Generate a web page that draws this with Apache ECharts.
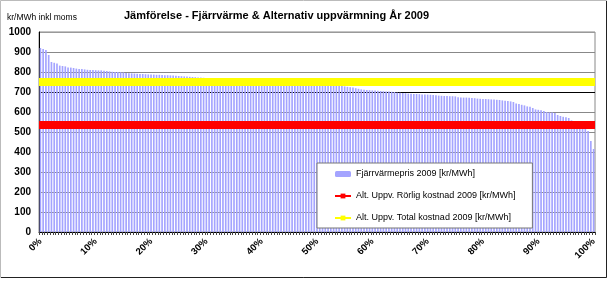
<!DOCTYPE html>
<html>
<head>
<meta charset="utf-8">
<script src="https://cdn.jsdelivr.net/npm/echarts@6/dist/echarts.min.js"></script>
<style>
  html, body { margin: 0; padding: 0; background: #fff; }
  #main { width: 610px; height: 282px; }
</style>
</head>
<body>
<div id="main"></div>
<script>
// Fjärrvärmepris 2009, sorterat fallande (kr/MWh)
var fjarrvarme = [
  920, 915, 910, 885, 850, 846, 843, 832, 830, 828,
  823, 822, 820, 817, 815, 815, 813, 811, 810, 810,
  809, 808, 808, 806, 805, 803, 801, 800, 800, 799,
  798, 795, 794, 793, 792, 791, 790, 790, 789, 788,
  788, 787, 786, 786, 785, 784, 784, 783, 782, 781,
  780, 779, 778, 777, 776, 775, 774, 773, 772, 771,
  770, 769, 769, 768, 767, 766, 766, 765, 764, 763,
  763, 762, 761, 760, 760, 759, 758, 757, 757, 756,
  755, 754, 754, 753, 752, 751, 751, 750, 749, 748,
  747, 746, 745, 744, 743, 742, 741, 740, 739, 738,
  737, 736, 736, 735, 734, 734, 733, 733, 732, 730,
  728, 726, 724, 722, 719, 716, 713, 711, 710, 709,
  708, 707, 706, 705, 704, 703, 702, 701, 700, 697,
  696, 695, 694, 692, 691, 690, 690, 689, 688, 687,
  687, 686, 685, 684, 682, 681, 680, 680, 679, 679,
  678, 674, 673, 672, 672, 671, 670, 669, 667, 666,
  665, 665, 664, 663, 662, 661, 660, 658, 656, 655,
  653, 650, 642, 640, 636, 633, 628, 626, 620, 613,
  611, 609, 605, 600, 598, 597, 595, 585, 580, 576,
  574, 570, 558, 553, 550, 547, 540, 520, 505, 455,
  415
];
var rorligKostnad = 535;
var totalKostnad = 750;
var tickLabels = ['0%', '10%', '20%', '30%', '40%', '50%', '60%', '70%', '80%', '90%', '100%'];
var seriesNames = ['Fjärrvärmepris 2009 [kr/MWh]', 'Alt. Uppv. Rörlig kostnad 2009 [kr/MWh]', 'Alt. Uppv. Total kostnad 2009 [kr/MWh]'];

var categories = fjarrvarme.map(function (v, i) { return String(i); });
var font = 'Liberation Sans, Arial, sans-serif';

var myChart = echarts.init(document.getElementById('main'));

var option = {
    animation: false,
    title: [{
        text: 'Jämförelse - Fjärrvärme & Alternativ uppvärmning År 2009',
        left: 124,
        top: 10,
        padding: 0,
        textStyle: { fontFamily: font, fontSize: 11, fontWeight: 'bold', color: '#000' }
    }, {
        text: 'kr/MWh inkl moms',
        left: 7,
        top: 13,
        padding: 0,
        textStyle: { fontFamily: font, fontSize: 8.5, fontWeight: 'normal', color: '#000' }
    }],
    legend: {
        orient: 'vertical',
        left: 317,
        top: 163,
        padding: [6, 17, 5, 17],
        itemGap: 12,
        itemWidth: 16,
        itemHeight: 6,
        backgroundColor: '#fff',
        borderColor: '#777',
        borderWidth: 1,
        textStyle: { fontFamily: font, fontSize: 9, color: '#000', lineHeight: 10 },
        data: seriesNames
    },
    grid: { left: 39, right: 15, top: 32, bottom: 50, show: true, borderColor: '#888', borderWidth: 1 },
    xAxis: {
        type: 'category',
        data: categories,
        axisLine: { lineStyle: { color: '#000', width: 1 } },
        axisTick: { show: true, interval: 0, length: 3, lineStyle: { color: '#444' } },
        axisLabel: {
            interval: 19,
            rotate: 45,
            margin: 8,
            fontFamily: font,
            fontSize: 9.5,
            fontWeight: 'bold',
            color: '#000',
            formatter: function (v, idx) { return tickLabels[Math.round(idx / 20)]; }
        }
    },
    yAxis: {
        type: 'value',
        min: 0,
        max: 1000,
        interval: 100,
        axisLine: { show: true, lineStyle: { color: '#000', width: 1 } },
        axisTick: { show: false },
        axisLabel: {
            fontFamily: font, fontSize: 10, fontWeight: 'bold', color: '#000', margin: 8,
            formatter: function (v) { return String(v); }
        },
        splitLine: {
            lineStyle: {
                color: ['#888', '#888', '#888', '#888', '#888', '#888', '#888', '#000', '#888', '#888', '#999'],
                width: 1
            }
        }
    },
    series: [{
        name: seriesNames[0],
        type: 'bar',
        data: fjarrvarme,
        barCategoryGap: '40%',
        itemStyle: { color: '#a4a4ff' }
    }, {
        name: seriesNames[1],
        type: 'line',
        data: [],
        symbol: 'rect',
        symbolSize: 6,
        itemStyle: { color: '#ff0000' },
        lineStyle: { color: '#ff0000', width: 3 },
        markLine: {
            silent: true,
            symbol: 'none',
            label: { show: false },
            lineStyle: { color: '#ff0000', width: 8, type: 'solid' },
            data: [{ yAxis: rorligKostnad }]
        }
    }, {
        name: seriesNames[2],
        type: 'line',
        data: [],
        symbol: 'rect',
        symbolSize: 6,
        itemStyle: { color: '#ffff00' },
        lineStyle: { color: '#ffff00', width: 3 },
        markLine: {
            silent: true,
            symbol: 'none',
            label: { show: false },
            lineStyle: { color: '#ffff00', width: 8, type: 'solid' },
            data: [{ yAxis: totalKostnad }]
        }
    }],
    graphic: [{
        type: 'rect',
        shape: { x: 0.5, y: 0.5, width: 606, height: 277 },
        style: { fill: null, stroke: '#bbb', lineWidth: 1 },
        silent: true
    }, {
        type: 'polyline',
        shape: { points: [[606.5, 1], [606.5, 277.5], [1, 277.5]] },
        style: { fill: null, stroke: '#222', lineWidth: 1 },
        silent: true
    }]
};

myChart.setOption(option);
</script>
</body>
</html>
